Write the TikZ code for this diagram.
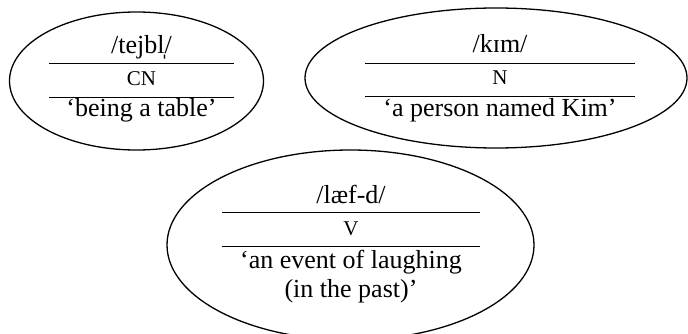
\documentclass[tikz,border=0pt]{standalone}
\usepackage{fontspec}
\setmainfont{Liberation Serif}
\begin{document}
\begin{tikzpicture}[x=1pt,y=-1pt,
  oval/.style={line width=1.3pt},
  rule/.style={line width=0.8pt},
  txt/.style={anchor=base,inner sep=0pt,font=\fontsize{26}{29}\selectfont},
  cat/.style={anchor=base,inner sep=0pt,font=\fontsize{21}{24}\selectfont}]
\useasboundingbox (0,0) rectangle (688,334);
\begin{scope}
\clip (0,0) rectangle (688,334);
% ellipse 1
\draw[oval] (136.5,81) ellipse [x radius=127pt, y radius=69pt];
\node[txt] (t1) at (141.5,54) {/tejbl̩/};
\draw[rule] (49,63) -- (234,63);
\node[cat] (c1) at (141.5,86) {CN};
\draw[rule] (49,97) -- (234,97);
\node[txt] (m1) at (141.5,117) {‘being a table’};
% ellipse 2
\draw[oval] (496,78) ellipse [x radius=191pt, y radius=70pt];
\node[txt] (t2) at (500,53) {/kɪm/};
\draw[rule] (365,63) -- (635,63);
\node[cat] (c2) at (500,85) {N};
\draw[rule] (365,96) -- (635,96);
\node[txt] (m2) at (500,117) {‘a person named Kim’};
% ellipse 3
\draw[oval] (350.5,245) ellipse [x radius=183.5pt, y radius=95pt];
\node[txt] (t3) at (351,203) {/læf-d/};
\draw[rule] (222,212) -- (480,212);
\node[cat] (c3) at (351,235) {V};
\draw[rule] (222,246) -- (480,246);
\node[txt] (m3) at (351,268) {‘an event of laughing};
\node[txt] (m4) at (351,297) {(in the past)’};
\end{scope}
\end{tikzpicture}
\end{document}
